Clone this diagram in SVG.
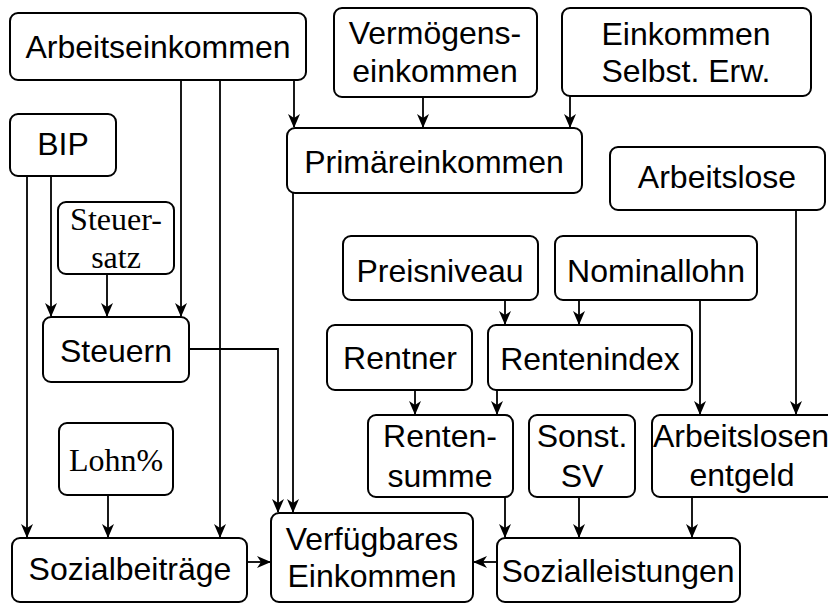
<svg xmlns="http://www.w3.org/2000/svg" width="828" height="603" viewBox="0 0 828 603">
<style>
.box{fill:#fff;stroke:#000;stroke-width:2}
.t{font-family:"Liberation Sans",Arial,sans-serif;font-size:32px;text-anchor:middle;fill:#000}
.s{font-family:"Liberation Serif","Times New Roman",serif;font-size:32px;text-anchor:middle;fill:#000}
.c{fill:none;stroke:#000;stroke-width:1.8}
</style>
<defs>
<marker id="ah" markerUnits="userSpaceOnUse" markerWidth="14" markerHeight="12" refX="13" refY="6" orient="auto">
<path d="M0,0 L14,6 L0,12 L4,6 z" fill="#000"/>
</marker>
</defs>
<rect width="828" height="603" fill="#fff"/>
<g id="connectors">
<path class="c" d="M294,80 V127" marker-end="url(#ah)"/>
<path class="c" d="M181,80 V316" marker-end="url(#ah)"/>
<path class="c" d="M220,80 V537" marker-end="url(#ah)"/>
<path class="c" d="M27,176 V537" marker-end="url(#ah)"/>
<path class="c" d="M51,176 V316" marker-end="url(#ah)"/>
<path class="c" d="M107,274 V316" marker-end="url(#ah)"/>
<path class="c" d="M108,495 V537" marker-end="url(#ah)"/>
<path class="c" d="M189,349 H278 V512" marker-end="url(#ah)"/>
<path class="c" d="M293,193 V512" marker-end="url(#ah)"/>
<path class="c" d="M423,97 V127" marker-end="url(#ah)"/>
<path class="c" d="M570,96 V127" marker-end="url(#ah)"/>
<path class="c" d="M505,300 V324" marker-end="url(#ah)"/>
<path class="c" d="M579,300 V324" marker-end="url(#ah)"/>
<path class="c" d="M700,300 V414" marker-end="url(#ah)"/>
<path class="c" d="M796,210 V414" marker-end="url(#ah)"/>
<path class="c" d="M415,390 V414" marker-end="url(#ah)"/>
<path class="c" d="M497,390 V414" marker-end="url(#ah)"/>
<path class="c" d="M505,497 V537" marker-end="url(#ah)"/>
<path class="c" d="M579,497 V537" marker-end="url(#ah)"/>
<path class="c" d="M692,497 V537" marker-end="url(#ah)"/>
<path class="c" d="M247,562 H270" marker-end="url(#ah)"/>
<path class="c" d="M497,562 H474" marker-end="url(#ah)"/>
</g>
<g id="arbeitseinkommen"><rect class="box" x="10" y="13" width="296" height="67" rx="8"/><text class="t" x="158" y="58">Arbeitseinkommen</text></g>
<g id="vermoegenseinkommen"><rect class="box" x="334" y="8" width="203" height="89" rx="8"/><text class="t" x="435" y="44">Vermögens-</text><text class="t" x="435" y="82">einkommen</text></g>
<g id="einkommen-selbst"><rect class="box" x="562" y="8" width="249" height="88" rx="8"/><text class="t" x="686" y="45">Einkommen</text><text class="t" x="686" y="82">Selbst. Erw.</text></g>
<g id="bip"><rect class="box" x="10" y="114" width="106" height="62" rx="8"/><text class="t" x="63" y="155">BIP</text></g>
<g id="primaereinkommen"><rect class="box" x="287" y="128" width="295" height="65" rx="8"/><text class="t" x="434" y="173">Primäreinkommen</text></g>
<g id="arbeitslose"><rect class="box" x="610" y="147" width="215" height="63" rx="8"/><text class="t" x="717" y="188">Arbeitslose</text></g>
<g id="steuersatz"><rect class="box" x="58" y="202" width="116" height="72" rx="8"/><text class="s" x="116" y="230">Steuer-</text><text class="s" x="116" y="268">satz</text></g>
<g id="preisniveau"><rect class="box" x="343" y="236" width="195" height="64" rx="8"/><text class="t" x="440" y="282">Preisniveau</text></g>
<g id="nominallohn"><rect class="box" x="555" y="236" width="202" height="64" rx="8"/><text class="t" x="656" y="282">Nominallohn</text></g>
<g id="steuern"><rect class="box" x="43" y="317" width="146" height="65" rx="8"/><text class="t" x="116" y="362">Steuern</text></g>
<g id="rentner"><rect class="box" x="327" y="325" width="145" height="65" rx="8"/><text class="t" x="400" y="369">Rentner</text></g>
<g id="rentenindex"><rect class="box" x="488" y="325" width="204" height="65" rx="8"/><text class="t" x="590" y="370">Rentenindex</text></g>
<g id="lohnprozent"><rect class="box" x="59" y="423" width="114" height="72" rx="8"/><text class="s" x="116" y="471">Lohn%</text></g>
<g id="rentensumme"><rect class="box" x="368" y="415" width="145" height="82" rx="8"/><text class="t" x="440" y="447">Renten-</text><text class="t" x="440" y="487">summe</text></g>
<g id="sonst-sv"><rect class="box" x="529" y="415" width="106" height="82" rx="8"/><text class="t" x="582" y="447">Sonst.</text><text class="t" x="582" y="487">SV</text></g>
<g id="arbeitslosenentgeld"><rect class="box" x="652" y="415" width="190" height="82" rx="8"/><text class="t" x="741" y="447">Arbeitslosen</text><text class="t" x="742" y="486">entgeld</text></g>
<g id="sozialbeitraege"><rect class="box" x="12" y="538" width="235" height="64" rx="8"/><text class="t" x="130" y="580">Sozialbeiträge</text></g>
<g id="verfuegbares-einkommen"><rect class="box" x="271" y="513" width="202" height="89" rx="8"/><text class="t" x="372" y="550">Verfügbares</text><text class="t" x="372" y="587">Einkommen</text></g>
<g id="sozialleistungen"><rect class="box" x="497" y="538" width="243" height="64" rx="8"/><text class="t" x="618" y="582">Sozialleistungen</text></g>
</svg>
